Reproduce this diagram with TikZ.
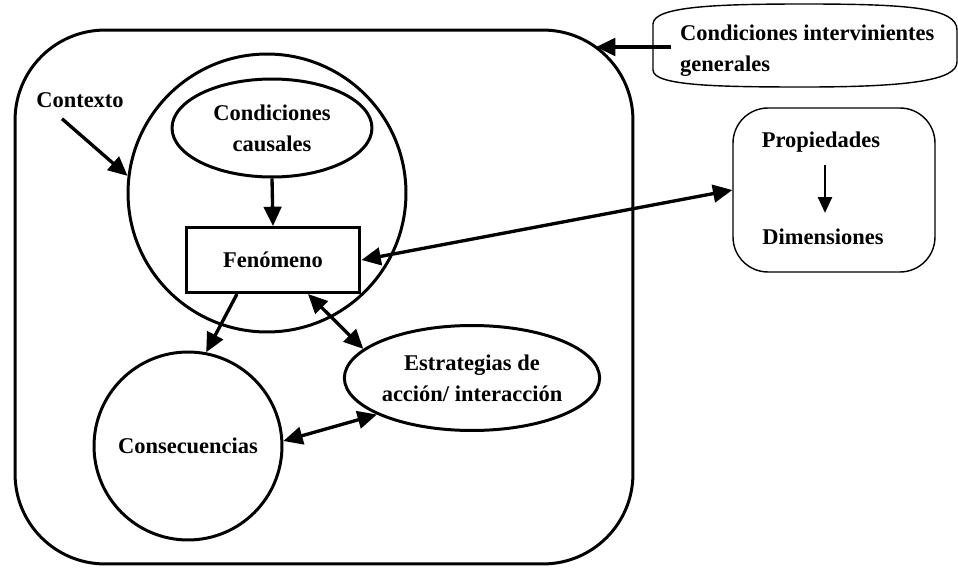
\documentclass[tikz,border=0pt]{standalone}
\usepackage{fontspec}
\setmainfont{Liberation Serif}
\usetikzlibrary{arrows.meta,shapes.geometric}
\tikzset{
  fig/.style={draw,line width=1.7pt,inner sep=0pt},
  thin box/.style={draw,line width=0.8pt},
  txt/.style={font=\bfseries\fontsize{12.8}{17.5}\selectfont,align=center},
  arr/.style={line width=1.9pt,-{Triangle[length=11pt,width=10pt]}},
  darr/.style={line width=1.9pt,{Triangle[length=11pt,width=10pt]}-{Triangle[length=11pt,width=10pt]}},
}
\begin{document}
\begin{tikzpicture}[x=0.02cm,y=-0.02cm]
  \useasboundingbox (0,0) rectangle (958,568);

  \node[fig,rounded corners=1.8cm,minimum width=12.36cm,minimum height=10.68cm] (ctx) at (324,297) {};
  \node[fig,circle,minimum size=5.56cm] (nucleo) at (267,193) {};
  \node[fig,ellipse,minimum width=4cm,minimum height=1.96cm,txt] (causales) at (272,128) {Condiciones\\causales};
  \node[fig,rectangle,minimum width=3.48cm,minimum height=1.3cm,txt] (fenomeno) at (273,260) {Fenómeno};
  \node[fig,ellipse,minimum width=5.1cm,minimum height=2.1cm,txt] (estrategias) at (472,378) {Estrategias de\\acción/ interacción};
  \node[fig,circle,minimum size=3.76cm,txt] (consec) at (188,446) {Consecuencias};
  \node[txt] (contexto) at (80,100) {Contexto};

  % condiciones intervinientes
  \draw[line width=0.8pt] (653,24) .. controls (653,6) and (720,4) .. (805,4)
    .. controls (910,4) and (957,8) .. (957,30) -- (957,62)
    .. controls (957,80) and (910,87) .. (805,87)
    .. controls (720,87) and (653,86) .. (653,70) -- cycle;
  \node[txt,align=left,anchor=west] (generales) at (674,51) {Condiciones intervinientes\\generales};

  % propiedades / dimensiones
  \node[thin box,rounded corners=0.7cm,minimum width=4.04cm,minimum height=3.28cm] (dimbox) at (834,190) {};
  \node[txt] (prop) at (821,142) {Propiedades};
  \node[txt] (dim) at (823,237) {Dimensiones};
  \draw[line width=1.2pt,-{Triangle[length=9pt,width=8pt]}] ([yshift=-0.14cm]prop.south -| 825,0) -- ([yshift=0.2cm]dim.north -| 825,0);

  \coordinate (genstart) at (671,47);
  \coordinate (ctxedge) at (596,47);
  \draw[arr] (genstart) -- (ctxedge);
  \draw[arr] ([xshift=-0.36cm,yshift=-0.1cm]contexto.south) -- (nucleo.173);
  \draw[arr] (causales.south) -- (fenomeno.north);
  \draw[darr] (fenomeno.east) -- (dimbox.west);
  \draw[arr] ([xshift=-0.72cm]fenomeno.south) -- (consec.79);
  \draw[darr] ([xshift=0.7cm]fenomeno.south) -- (estrategias.165);
  \draw[darr] (consec.3) -- (estrategias.201);
\end{tikzpicture}
\end{document}
